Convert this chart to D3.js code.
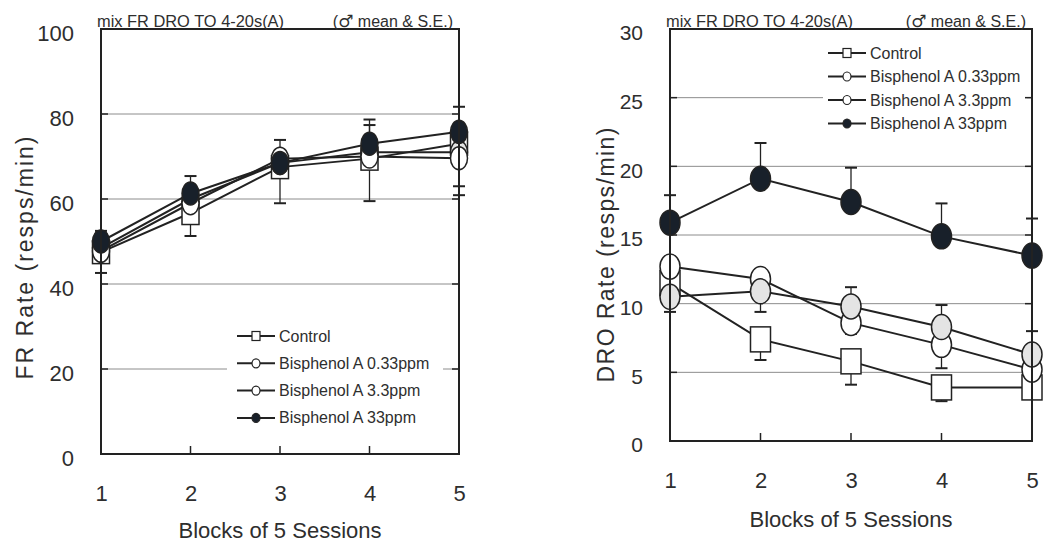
<!DOCTYPE html>
<html>
<head>
<meta charset="utf-8">
<script src="https://cdn.jsdelivr.net/npm/d3@7"></script>
<style>
  body { margin: 0; background: #fff; }
  svg { display: block; font-family: "Liberation Sans", Arial, sans-serif; }
</style>
</head>
<body>
<svg id="chart" width="1044" height="544"></svg>
<script>
// blocks on the x axis
const blocks = [1, 2, 3, 4, 5]
const seriesNames = ['Control', 'Bisphenol A 0.33ppm', 'Bisphenol A 3.3ppm', 'Bisphenol A 33ppm']

// left panel : FR rate (resps/min), mean and S.E.
const frControl = [47.5, 56.7, 67.5, 69.5, 73.0]
const frBpaLow = [47.8, 59.0, 69.5, 70.0, 69.6]
const frBpaMid = [48.5, 60.0, 68.5, 71.0, 71.0]
const frBpaHigh = [50.0, 61.3, 68.5, 73.0, 75.8]
const frControlSE = [4.9, 5.4, 8.5, 10.0, 10.0]
const frBpaLowSE = [2.0, 2.0, 2.0, 2.0, 8.7]
const frBpaMidSE = [2.0, 2.0, 2.0, 6.4, 2.0]
const frBpaHighSE = [2.5, 4.1, 5.4, 5.7, 5.9]
const frTicks = [0, 20, 40, 60, 80, 100]

// right panel : DRO rate (resps/min), mean and S.E.
const droControl = [11.5, 7.4, 5.8, 3.9, 3.9]
const droBpaLow = [12.7, 11.8, 8.6, 7.0, 5.2]
const droBpaMid = [10.5, 10.9, 9.8, 8.3, 6.3]
const droBpaHigh = [15.9, 19.1, 17.4, 14.9, 13.5]
const droControlSE = [2.1, 1.5, 1.7, 1.0, 0.6]
const droBpaLowSE = [0.8, 2.4, 0.8, 1.7, 0.8]
const droBpaMidSE = [0.8, 0.8, 1.4, 1.6, 1.7]
const droBpaHighSE = [2.0, 2.6, 2.5, 2.4, 2.7]
const droTicks = [0, 5, 10, 15, 20, 25, 30]

// which way the S.E. whisker is drawn for each group
const seSide = [-1, -1, 1, 1]

const ink = '#222'
const textCol = '#2e2e2e'
const markFill = ['#fff', '#fff', '#e4e4e4', '#18202a']

const svg = d3.select('#chart')

function drawPanel(p) {
    const g = svg.append('g')
    const x = d3.scaleLinear().domain([1, 5]).range([p.left, p.right])
    const y = d3.scaleLinear().domain([0, p.yMax]).range([p.bottom, p.top])

    // grid
    g.selectAll('.grid')
        .data(p.ticks.filter(t => t > 0 && t < p.yMax))
        .enter().append('line')
        .attr('x1', p.left).attr('x2', p.right)
        .attr('y1', d => y(d)).attr('y2', d => y(d))
        .attr('stroke', '#8c8c8c').attr('stroke-width', 1)

    // legend background cuts the grid
    g.append('rect')
        .attr('x', p.legend.boxX).attr('y', p.legend.y0 - p.legend.dy * 0.7)
        .attr('width', p.legend.boxW).attr('height', p.legend.dy * 4.4)
        .attr('fill', '#fff')

    // axes (labels only, frame drawn below)
    const yAxis = g.append('g')
        .attr('transform', 'translate(' + p.left + ',4)')
        .call(d3.axisLeft(y).tickValues(p.ticks).tickFormat(d3.format('d')).tickSize(0).tickPadding(27))
    yAxis.select('.domain').remove()
    yAxis.selectAll('text').attr('font-size', p.tickFont).attr('fill', textCol)
        .attr('font-family', '"Liberation Sans", Arial, sans-serif')

    const xAxis = g.append('g')
        .attr('transform', 'translate(0,' + p.bottom + ')')
        .call(d3.axisBottom(x).tickValues(blocks).tickFormat(d3.format('d')).tickSize(0).tickPadding(31))
    xAxis.select('.domain').remove()
    xAxis.selectAll('text').attr('font-size', 22).attr('fill', textCol)
        .attr('font-family', '"Liberation Sans", Arial, sans-serif')

    // inner tick marks
    g.selectAll('.xt')
        .data(blocks.slice(1, 4))
        .enter().append('line')
        .attr('x1', d => x(d)).attr('x2', d => x(d))
        .attr('y1', p.bottom).attr('y2', p.bottom - 8)
        .attr('stroke', ink).attr('stroke-width', 1.5)
    p.ticks.filter(t => t > 0 && t < p.yMax).forEach(t => {
        g.append('line').attr('x1', p.left).attr('x2', p.left + 7)
            .attr('y1', y(t)).attr('y2', y(t)).attr('stroke', ink).attr('stroke-width', 1.5)
        g.append('line').attr('x1', p.right).attr('x2', p.right - 7)
            .attr('y1', y(t)).attr('y2', y(t)).attr('stroke', ink).attr('stroke-width', 1.5)
    })

    // error bars
    p.series.forEach((vals, i) => {
        vals.forEach((v, j) => {
            const end = v + seSide[i] * p.se[i][j]
            g.append('line')
                .attr('x1', x(blocks[j])).attr('x2', x(blocks[j]))
                .attr('y1', y(v)).attr('y2', y(end))
                .attr('stroke', ink).attr('stroke-width', 1.3)
            g.append('line')
                .attr('x1', x(blocks[j]) - 6).attr('x2', x(blocks[j]) + 6)
                .attr('y1', y(end)).attr('y2', y(end))
                .attr('stroke', ink).attr('stroke-width', 2)
        })
    })

    // lines
    const line = d3.line()
        .x((d, j) => x(blocks[j]))
        .y(d => y(d))
    p.series.forEach(vals => {
        g.append('path')
            .datum(vals)
            .attr('fill', 'none')
            .attr('stroke', ink)
            .attr('stroke-width', 2)
            .attr('d', line)
    })

    // markers, stacked in the order seen in the picture
    p.markerOrder.forEach(i => {
        p.series[i].forEach((v, j) => {
            if (i === 0) {
                g.append('rect')
                    .attr('x', x(blocks[j]) - p.mw).attr('y', y(v) - p.mh)
                    .attr('width', p.mw * 2).attr('height', p.mh * 2)
                    .attr('fill', '#fff').attr('stroke', ink).attr('stroke-width', 1.5)
            } else {
                g.append('ellipse')
                    .attr('cx', x(blocks[j])).attr('cy', y(v))
                    .attr('rx', p.mw).attr('ry', p.mh)
                    .attr('fill', markFill[i]).attr('stroke', ink).attr('stroke-width', 1.5)
            }
        })
    })

    // frame
    g.append('rect')
        .attr('x', p.left).attr('y', p.top)
        .attr('width', p.right - p.left).attr('height', p.bottom - p.top)
        .attr('fill', 'none').attr('stroke', ink).attr('stroke-width', 2)

    // legend
    seriesNames.forEach((name, i) => {
        const ly = p.legend.y0 + i * p.legend.dy
        const lx = p.legend.x
        g.append('line').attr('x1', lx).attr('x2', lx + 38)
            .attr('y1', ly).attr('y2', ly).attr('stroke', ink).attr('stroke-width', 2)
        if (i === 0) {
            g.append('rect').attr('x', lx + 15).attr('y', ly - 4.5).attr('width', 8).attr('height', 9)
                .attr('fill', '#fff').attr('stroke', ink).attr('stroke-width', 1.2)
        } else {
            g.append('ellipse').attr('cx', lx + 19).attr('cy', ly).attr('rx', 4).attr('ry', 4.5)
                .attr('fill', i === 3 ? markFill[3] : '#fff').attr('stroke', ink).attr('stroke-width', 1.2)
        }
        g.append('text')
            .attr('x', lx + 42).attr('y', ly + 5.5)
            .attr('font-size', 16).attr('fill', textCol)
            .text(name)
    })

    // header texts
    g.append('text')
        .attr('x', p.left - 4).attr('y', p.top - 2)
        .attr('font-size', 16).attr('fill', textCol)
        .attr('textLength', 187).attr('lengthAdjust', 'spacingAndGlyphs')
        .text('mix FR DRO TO 4-20s(A)')
    const note = g.append('text')
        .attr('x', p.right - 6).attr('y', p.top - 2)
        .attr('text-anchor', 'end')
        .attr('font-size', 16).attr('fill', textCol)
    note.append('tspan').text('(')
    note.append('tspan').attr('font-family', '"DejaVu Sans", sans-serif').attr('font-size', 17).text('\u2642')
    note.append('tspan').text(' mean & S.E.)')

    // axis titles
    g.append('text')
        .attr('x', (p.left + p.right) / 2).attr('y', p.xTitleY)
        .attr('text-anchor', 'middle')
        .attr('font-size', 22).attr('fill', textCol)
        .text('Blocks of 5 Sessions')
    g.append('text')
        .attr('transform', 'translate(' + p.yTitleX + ',' + p.yTitleY + ') rotate(-90)')
        .attr('text-anchor', 'middle')
        .attr('font-size', 23).attr('fill', textCol)
        .attr('textLength', p.yTitleLen).attr('lengthAdjust', 'spacing')
        .text(p.yTitle)
}

drawPanel({
    left: 101, right: 459, top: 29, bottom: 454, yMax: 100,
    ticks: frTicks, tickFont: 22,
    series: [frControl, frBpaLow, frBpaMid, frBpaHigh],
    se: [frControlSE, frBpaLowSE, frBpaMidSE, frBpaHighSE],
    markerOrder: [0, 2, 1, 3],
    mw: 8.5, mh: 11.5,
    legend: { x: 237, y0: 336, dy: 27.3, boxX: 227, boxW: 216 },
    xTitleY: 538, yTitle: 'FR Rate (resps/min)', yTitleX: 33, yTitleY: 258, yTitleLen: 243
})

drawPanel({
    left: 670, right: 1032, top: 29, bottom: 441, yMax: 30,
    ticks: droTicks, tickFont: 21,
    series: [droControl, droBpaLow, droBpaMid, droBpaHigh],
    se: [droControlSE, droBpaLowSE, droBpaMidSE, droBpaHighSE],
    markerOrder: [0, 1, 2, 3],
    mw: 10, mh: 12.5,
    legend: { x: 828, y0: 53, dy: 23.5, boxX: 823, boxW: 204 },
    xTitleY: 527, yTitle: 'DRO Rate (resps/min)', yTitleX: 614, yTitleY: 255, yTitleLen: 255
})
</script>
</body>
</html>
